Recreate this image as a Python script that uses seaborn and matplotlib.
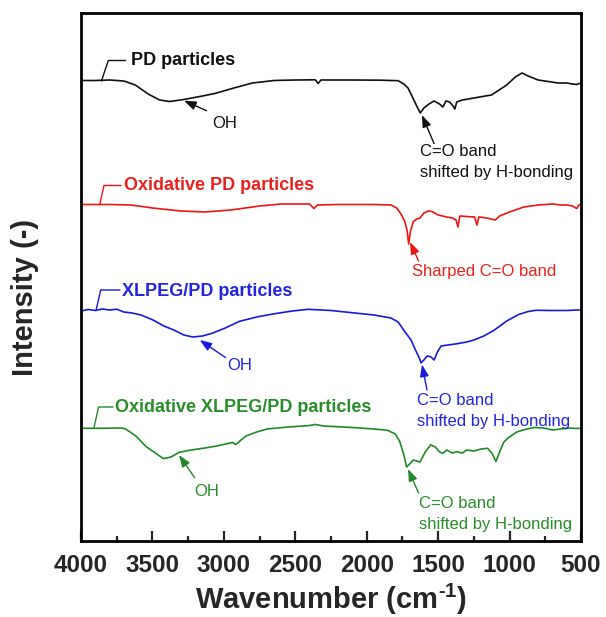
import numpy as np
import pandas as pd
import seaborn as sns
import matplotlib
matplotlib.use("Agg")
import matplotlib.pyplot as plt

# ---------------- data (wavenumber in cm^-1, intensity in arbitrary units, stacked) -------------
pd_w = [4000, 3900, 3800, 3700, 3620, 3530, 3450, 3380, 3280, 3150, 3060, 2930, 2800, 2650, 2500,
        2360, 2340, 2320, 2100, 1900, 1780, 1740, 1711, 1680, 1650, 1625, 1600, 1564, 1530, 1490,
        1467, 1445, 1420, 1395, 1383, 1370, 1330, 1250, 1127, 1020, 960, 913, 870, 800, 730, 660,
        600, 560, 528, 500]
pd_i = [460.5, 460.5, 461, 460, 456, 447, 441, 439.5, 441.5, 445, 447.6, 453, 458, 460.5, 461,
        461.2, 457.5, 461, 461, 460.8, 460.3, 457, 453, 444, 435, 428, 433, 437, 440, 437,
        434, 440, 439, 435, 432, 439, 441, 443, 446, 456, 464, 468, 465, 461, 459.5, 458,
        458, 457, 456.5, 458]

oxpd_w = [4000, 3800, 3650, 3500, 3300, 3133, 2950, 2750, 2600, 2400, 2370, 2345, 2200, 1950,
          1830, 1790, 1760, 1735, 1718, 1706, 1695, 1674, 1650, 1627, 1600, 1570, 1543, 1500,
          1440, 1400, 1375, 1361, 1348, 1300, 1245, 1228, 1215, 1160, 1100, 1070, 1000, 900,
          800, 700, 640, 600, 560, 530, 515, 500]
oxpd_i = [336.5, 336.5, 336, 333, 330, 329, 331, 335, 337, 337, 332.5, 336, 336.5, 336.5,
          336, 333, 327, 320, 311, 297, 309, 319.3, 322, 323, 328, 330, 329.5, 326,
          324, 323, 321, 314, 325, 324.5, 324, 316, 324, 323, 321, 325, 329, 334,
          336, 337, 336, 336, 335, 332.5, 336, 336.5]

xl_w = [4000, 3950, 3900, 3850, 3800, 3750, 3700, 3643, 3580, 3496, 3420, 3350, 3280, 3217, 3150,
        3085, 2990, 2892, 2770, 2649, 2520, 2408, 2250, 2096, 1950, 1830, 1780, 1733, 1690, 1662,
        1635, 1619, 1600, 1577, 1550, 1528, 1505, 1480, 1430, 1371, 1300, 1250, 1180, 1106, 1020,
        937, 870, 816, 700, 600, 527, 500]
xl_i = [230, 231.5, 230.5, 232, 231, 231.8, 229, 228, 226, 221, 215, 211, 206, 204, 205,
        207.6, 213, 219.6, 224, 227.2, 230, 231.7, 230.5, 228.2, 226, 223, 219, 209.3, 201, 192,
        184, 178.2, 181, 185.1, 184, 181, 189, 195, 196, 197.2, 199, 201, 205, 211, 220,
        226.5, 229.5, 230.7, 230.5, 230.5, 231, 231]

oxxl_w = [4000, 3850, 3720, 3688, 3616, 3545, 3480, 3423, 3370, 3314, 3250, 3133, 3050, 2988,
          2940, 2916, 2880, 2845, 2770, 2698, 2550, 2400, 2362, 2300, 2100, 1950, 1854, 1800,
          1769, 1740, 1721, 1700, 1674, 1650, 1627, 1590, 1552, 1520, 1490, 1467, 1440, 1400,
          1371, 1330, 1300, 1250, 1200, 1153, 1120, 1095, 1070, 1040, 1011, 950, 888, 830,
          760, 700, 640, 580, 530, 500]
oxxl_i = [112.7, 112.7, 113, 112, 105, 94.5, 88, 82.4, 84, 88.6, 90.5, 93, 95, 97,
          98.5, 96.5, 101, 105, 109, 112, 114, 115.5, 116.5, 115, 113.5, 112, 110.7, 107,
          99.6, 86, 74, 77, 81, 80, 79, 89, 96.2, 94, 89, 87.6, 91, 88,
          89.3, 88, 91, 90, 92, 92.7, 87, 79.6, 89, 99, 103, 109, 111.7, 113.5,
          113, 111, 112, 113, 112.5, 112.7]

series_names = ["PD particles", "Oxidative PD particles", "XLPEG/PD particles",
                "Oxidative XLPEG/PD particles"]
x_ticks = [4000, 3500, 3000, 2500, 2000, 1500, 1000, 500]

# ---------------- style -------------------------------------------------------------------------
sns.set_theme(style="ticks")
plt.rcParams["font.family"] = ["Liberation Sans", "DejaVu Sans"]
plt.rcParams["mathtext.fontset"] = "custom"
plt.rcParams["mathtext.rm"] = "Liberation Sans:bold"
plt.rcParams["mathtext.bf"] = "Liberation Sans:bold"
plt.rcParams["mathtext.it"] = "Liberation Sans:bold"

colors = ["#111111", "#f01414", "#1a1adc", "#23882a"]
text_colors = ["#111111", "#ec2020", "#2424e0", "#2a8c2a"]

fig = plt.figure(figsize=(6.06, 6.17), dpi=100)
ax = fig.add_axes([81 / 606, 76 / 617, 500 / 606, 528 / 617])

data = [(pd_w, pd_i), (oxpd_w, oxpd_i), (xl_w, xl_i), (oxxl_w, oxxl_i)]
for (w, i), name, c in zip(data, series_names, colors):
    df = pd.DataFrame({"w": w, "i": i})
    sns.lineplot(data=df, x="w", y="i", ax=ax, color=c, lw=1.2, estimator=None, sort=False)

ax.set_xlim(4000, 500)
ax.set_ylim(0, 528)
ax.set_xticks(x_ticks)
ax.set_xticklabels([str(t) for t in x_ticks])
ax.set_xticks(np.arange(3750, 500, -500), minor=True)
ax.set_yticks([])
ax.tick_params(axis="x", which="major", direction="in", length=7, width=1.6,
               labelsize=17.5, pad=9, top=False)
ax.tick_params(axis="x", which="minor", direction="in", length=3.5, width=1.6, top=False)
for lab in ax.get_xticklabels():
    lab.set_fontweight("bold")
for s in ax.spines.values():
    s.set_visible(True)
    s.set_linewidth(2.0)
    s.set_color("black")

ax.set_xlabel(r"Wavenumber (cm$^{\text{-1}}$)", fontsize=21, fontweight="bold", labelpad=4)
ax.set_ylabel("Intensity (-)", fontsize=21, fontweight="bold")
ax.yaxis.set_label_coords(-0.084, 0.462)

# ---------------- series labels with leader lines ------------------------------------------------
leaders = [
    ((3857, 460), (3809, 480.5), (3688, 480.5), (3652, 480.5)),
    ((3869, 336.5), (3839, 355.5), (3720, 355.5), (3699, 355.5)),
    ((3895, 230.5), (3862, 251), (3727, 251), (3713, 249.5)),
    ((3910, 112.7), (3877, 134), (3776, 134), (3762, 133.5)),
]
for (p0, p1, p2, pt), name, c, tc in zip(leaders, series_names, colors, text_colors):
    ax.plot([p0[0], p1[0], p2[0]], [p0[1], p1[1], p2[1]], color=c, lw=1.0)
    ax.text(pt[0], pt[1], name, color=tc, fontsize=13, fontweight="bold",
            ha="left", va="center")

# ---------------- peak annotations ---------------------------------------------------------------
arrows = [
    # tip, tail, text position, text, color index
    ((3279, 440.3), (3121, 430.3), (3083, 418), "OH", 0),
    ((1613, 426), (1529, 397.5), (1627, 389), "C=O band\nshifted by H-bonding", 0),
    ((1697, 299), (1637, 280), (1685, 269.3), "Sharped C=O band", 1),
    ((3169, 201), (2988, 183.4), (2978, 175), "OH", 2),
    ((1613, 176.5), (1578, 151), (1648, 140.3), "C=O band\nshifted by H-bonding", 2),
    ((3314, 86), (3205, 63.4), (3205, 50), "OH", 3),
    ((1711, 72), (1637, 48), (1637, 37.6), "C=O band\nshifted by H-bonding", 3),
]
for tip, tail, tpos, txt, k in arrows:
    ax.annotate("", xy=tip, xytext=tail,
                arrowprops=dict(arrowstyle="-|>,head_length=0.6,head_width=0.22",
                                color=colors[k], lw=1.0, shrinkA=0, shrinkB=0))
    for j, line in enumerate(txt.split("\n")):
        ax.text(tpos[0], tpos[1] - 20.7 * j, line, color=text_colors[k], fontsize=12,
                ha="left", va="center")

fig.savefig("out.png", dpi=100)
